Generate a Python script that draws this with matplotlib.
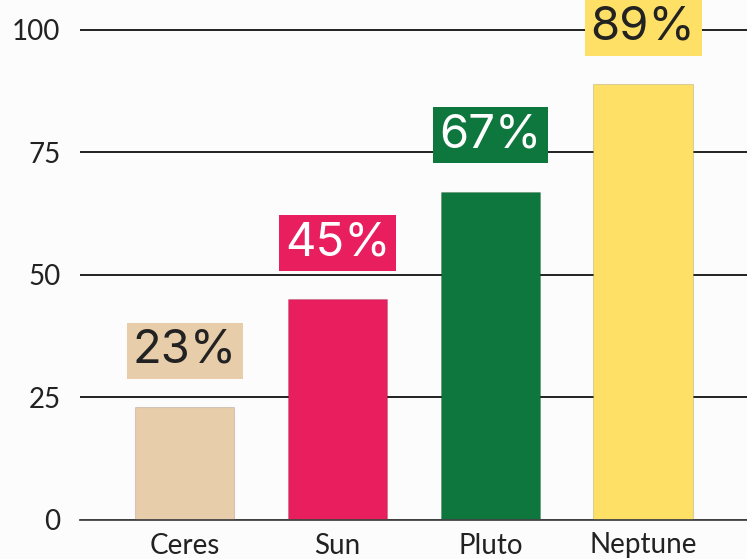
import matplotlib
matplotlib.use('Agg')
import matplotlib.pyplot as plt

# Data
planets = ['Ceres', 'Sun', 'Pluto', 'Neptune']
shares = [23, 45, 67, 89]
bar_colors = ['#E8CDAB', '#E91E5E', '#0E773E', '#FDE065']
text_colors = ['#222222', '#FFFFFF', '#FFFFFF', '#222222']
y_ticks = [0, 25, 50, 75, 100]

plt.rcParams['font.family'] = ['Lato', 'DejaVu Sans']

fig = plt.figure(figsize=(7.47, 5.59), dpi=100, facecolor='#FCFCFC')
ax = fig.add_axes([80 / 747, 39 / 559, 667 / 747, 520 / 559])
ax.set_facecolor('#FCFCFC')

x = list(range(len(planets)))
ax.bar(x, shares, width=0.65, color=bar_colors, edgecolor='#00000022',
       linewidth=0.8, zorder=3)

# Percentage labels with coloured boxes
for xi, val, bc, tc in zip(x, shares, bar_colors, text_colors):
    ax.text(xi, val + 11.5, f'{val}%', ha='center', va='center',
            fontsize=34, color=tc, zorder=4, family=['Inter', 'DejaVu Sans'],
            bbox=dict(boxstyle='square,pad=0.13', facecolor=bc, edgecolor='none'))

ax.set_xlim(-0.686, 3.68)
ax.set_ylim(0, 106.1)
ax.set_yticks(y_ticks)
ax.set_xticks(x)
ax.set_xticklabels(planets)

ax.grid(axis='y', color='#111111', linewidth=1.3, zorder=1)
ax.tick_params(axis='both', length=0, labelsize=20, colors='#222222')
ax.tick_params(axis='y', pad=14)
ax.tick_params(axis='x', pad=9)

for side in ['top', 'right', 'left']:
    ax.spines[side].set_visible(False)
ax.spines['bottom'].set_color('#444444')
ax.spines['bottom'].set_linewidth(1.3)
ax.spines['bottom'].set_zorder(5)

plt.savefig('out.png', dpi=100, facecolor=fig.get_facecolor())
